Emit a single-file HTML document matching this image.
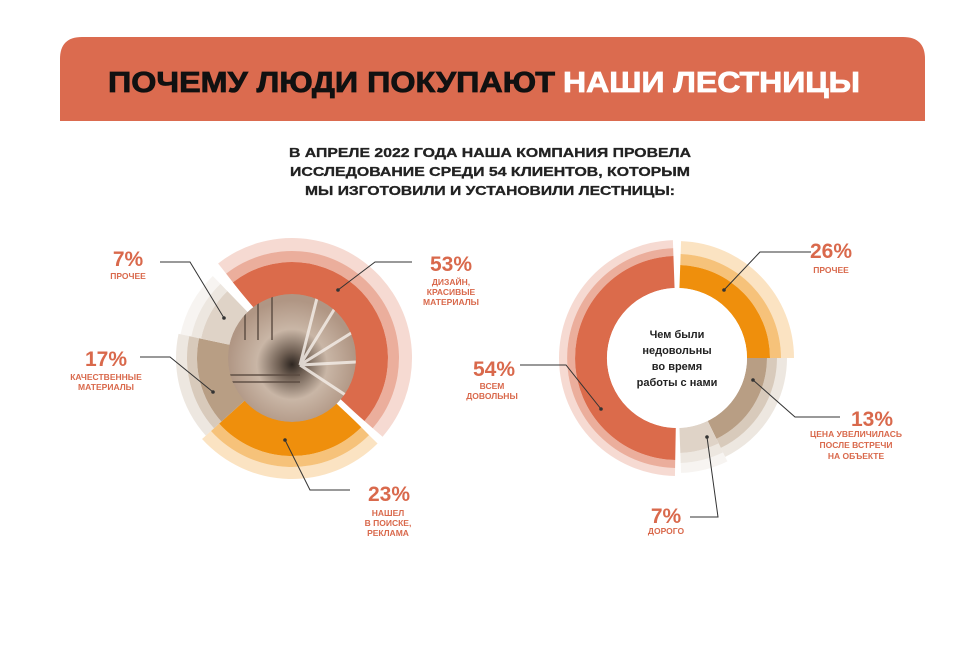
<!DOCTYPE html>
<html><head><meta charset="utf-8"><style>
body{margin:0;background:#fff;width:975px;height:657px;overflow:hidden}
svg{display:block}
text{font-family:"Liberation Sans","DejaVu Sans",sans-serif}
</style></head><body>
<svg id="s" width="975" height="657" viewBox="0 0 975 657">
<defs>
<radialGradient id="ph" cx="0.5" cy="0.55" r="0.5">
<stop offset="0" stop-color="#2e2621"/><stop offset="0.2" stop-color="#6e5e52"/><stop offset="0.55" stop-color="#c9b6a6"/><stop offset="1" stop-color="#b09684"/></radialGradient>
<clipPath id="pc"><circle cx="292" cy="358" r="64"/></clipPath>
</defs>
<path d="M60,121 L60,59 Q60,37 82,37 L903,37 Q925,37 925,59 L925,121 Z" fill="#db6b4f"/>
<text x="108" y="92" font-size="29" font-weight="bold" fill="#111" stroke="#111" stroke-width="0.8" textLength="447" lengthAdjust="spacingAndGlyphs">ПОЧЕМУ ЛЮДИ ПОКУПАЮТ</text>
<text x="563" y="92" font-size="29" font-weight="bold" fill="#fff" stroke="#fff" stroke-width="0.8" textLength="297" lengthAdjust="spacingAndGlyphs">НАШИ ЛЕСТНИЦЫ</text>
<g font-size="13" font-weight="bold" fill="#222" stroke="#222" stroke-width="0.3" text-anchor="middle">
<text x="490" y="157" textLength="402" lengthAdjust="spacingAndGlyphs">В АПРЕЛЕ 2022 ГОДА НАША КОМПАНИЯ ПРОВЕЛА</text>
<text x="490" y="176" textLength="400" lengthAdjust="spacingAndGlyphs">ИССЛЕДОВАНИЕ СРЕДИ 54 КЛИЕНТОВ, КОТОРЫМ</text>
<text x="490" y="195" textLength="370" lengthAdjust="spacingAndGlyphs">МЫ ИЗГОТОВИЛИ И УСТАНОВИЛИ ЛЕСТНИЦЫ:</text>
</g>
<g id="arcs"></g>
<g clip-path="url(#pc)">
<circle cx="292" cy="358" r="64" fill="url(#ph)"/>
<g stroke="#f3ece6" stroke-width="3" opacity="0.85">
<line x1="300" y1="365" x2="356" y2="330"/><line x1="300" y1="365" x2="356" y2="362"/><line x1="300" y1="365" x2="350" y2="398"/><line x1="300" y1="365" x2="340" y2="300"/><line x1="300" y1="365" x2="318" y2="294"/></g>
<g stroke="#5a4a40" stroke-width="2" opacity="0.7">
<line x1="245" y1="300" x2="245" y2="340"/><line x1="258" y1="296" x2="258" y2="340"/><line x1="272" y1="293" x2="272" y2="340"/><line x1="230" y1="375" x2="300" y2="375"/><line x1="230" y1="382" x2="300" y2="382"/></g>
</g>
<circle cx="677" cy="358" r="70" fill="#fff"/>
<g font-size="11" fill="#222" text-anchor="middle" font-weight="bold">
<text x="677" y="338">Чем были</text><text x="677" y="354">недовольны</text><text x="677" y="370">во время</text><text x="677" y="386">работы с нами</text></g>
<g stroke="#333" stroke-width="1" fill="none">
<polyline points="160,262 190,262 224,318"/>
<polyline points="140,357 170,357 213,392"/>
<polyline points="412,262 375,262 338,290"/>
<polyline points="285,440 310,490 350,490"/>
<polyline points="811,252 760,252 724,290"/>
<polyline points="520,365 566,365 601,409"/>
<polyline points="753,380 795,417 840,417"/>
<polyline points="707,437 718,517 690,517"/>
</g>
<g fill="#333"><circle cx="224" cy="318" r="1.8"/><circle cx="213" cy="392" r="1.8"/><circle cx="338" cy="290" r="1.8"/><circle cx="285" cy="440" r="1.8"/><circle cx="724" cy="290" r="1.8"/><circle cx="601" cy="409" r="1.8"/><circle cx="753" cy="380" r="1.8"/><circle cx="707" cy="437" r="1.8"/></g>
<g fill="#d9694c" font-weight="bold" text-anchor="middle">
<g font-size="21"><text x="128" y="266">7%</text><text x="106" y="366">17%</text><text x="451" y="271">53%</text><text x="389" y="501">23%</text>
<text x="831" y="258">26%</text><text x="494" y="376">54%</text><text x="872" y="426">13%</text><text x="666" y="523">7%</text></g>
<g font-size="8.5">
<text x="128" y="279">ПРОЧЕЕ</text>
<text x="106" y="380">КАЧЕСТВЕННЫЕ</text><text x="106" y="390">МАТЕРИАЛЫ</text>
<text x="451" y="285">ДИЗАЙН,</text><text x="451" y="295">КРАСИВЫЕ</text><text x="451" y="305">МАТЕРИАЛЫ</text>
<text x="388" y="516">НАШЕЛ</text><text x="388" y="526">В ПОИСКЕ,</text><text x="388" y="536">РЕКЛАМА</text>
<text x="831" y="273">ПРОЧЕЕ</text>
<text x="492" y="389">ВСЕМ</text><text x="492" y="399">ДОВОЛЬНЫ</text>
<text x="856" y="437">ЦЕНА УВЕЛИЧИЛАСЬ</text><text x="856" y="448">ПОСЛЕ ВСТРЕЧИ</text><text x="856" y="459">НА ОБЪЕКТЕ</text>
<text x="666" y="534">ДОРОГО</text></g>
</g>
</svg>
<script>
function P(cx,cy,r0,r1,a0,a1){var t=Math.PI/180;function pt(r,a){return (cx+r*Math.cos(a*t)).toFixed(2)+","+(cy+r*Math.sin(a*t)).toFixed(2)}var l=(a1-a0)>180?1:0;
return "M"+pt(r1,a0)+" A"+r1+","+r1+" 0 "+l+" 1 "+pt(r1,a1)+" L"+pt(r0,a1)+" A"+r0+","+r0+" 0 "+l+" 0 "+pt(r0,a0)+"Z";}
var g=document.getElementById("arcs"),h="";
function seg(cx,cy,ri,rs,a0,a1,col){
 h+='<path d="'+P(cx,cy,rs[1],rs[2],a0,a1)+'" fill="'+col+'" opacity="0.25"/>';
 h+='<path d="'+P(cx,cy,rs[0],rs[1],a0,a1)+'" fill="'+col+'" opacity="0.55"/>';
 h+='<path d="'+P(cx,cy,ri,rs[0],a0,a1)+'" fill="'+col+'"/>';}
seg(292,358,62,[96,107,120],-128,41,"#db6b4b");
seg(292,358,62,[98,109,121],45,138,"#ef8f0c");
seg(292,358,62,[95,105,116],138,192,"#b89e84");
seg(292,358,62,[93,103,114],192,226,"#dfd3c7");
seg(677,358,70,[102,110,118],91,268,"#db6b4b");
seg(677,358,70,[93,104,117],272,360,"#ef8f0c");
seg(677,358,70,[90,100,110],0,64,"#b89e84");
seg(677,358,70,[95,105,115],64,88,"#dfd3c7");
var t=Math.PI/180;
[-130,43].forEach(function(a){var x1=292+60*Math.cos(a*t),y1=358+60*Math.sin(a*t),x2=292+125*Math.cos(a*t),y2=358+125*Math.sin(a*t);
h+='<line x1="'+x1+'" y1="'+y1+'" x2="'+x2+'" y2="'+y2+'" stroke="#fff" stroke-width="6"/>';});
g.innerHTML=h;
</script>
</body></html>
